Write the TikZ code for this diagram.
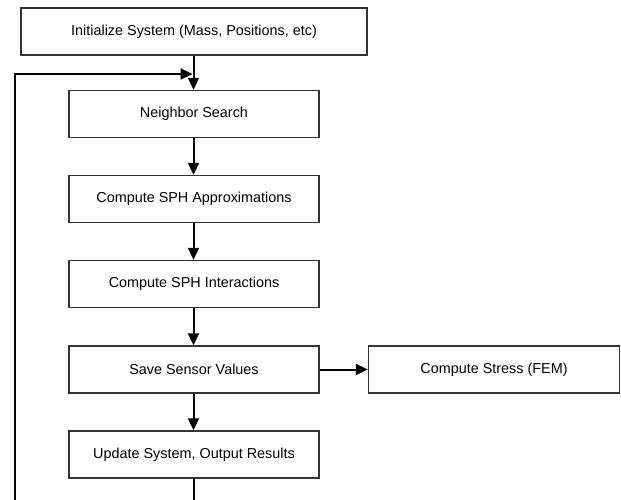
\documentclass[tikz,border=0pt]{standalone}
\usepackage{fontspec}
\setmainfont{Liberation Sans}
\usetikzlibrary{arrows.meta}
\begin{document}
\begin{tikzpicture}[x=1pt,y=-1pt,
  box/.style={draw=black!80,line width=1.4pt,fill=white,minimum height=47pt,inner sep=0pt,font=\fontsize{14.4}{16}\selectfont},
  mainbox/.style={box,minimum width=250pt},
  conn/.style={line width=2pt,-{Triangle[length=12pt,width=11pt]}},
  plain/.style={line width=2pt}]
\useasboundingbox (0,0) rectangle (621,500);
\node[box,minimum width=346pt] (init) at (194,31.5) {Initialize System (Mass, Positions, etc)};
\node[mainbox] (ns) at (194,114) {Neighbor Search};
\node[mainbox] (approx) at (194,199) {Compute SPH Approximations};
\node[mainbox] (inter) at (194,284) {Compute SPH Interactions};
\node[mainbox] (save) at (194,369.5) {Save Sensor Values};
\node[mainbox] (upd) at (194,454.5) {Update System, Output Results};
\node[box,minimum width=251pt] (fem) at (494,369.5) {Compute Stress (FEM)};
\coordinate (join) at (193.5,74);
\coordinate (bot) at (193.5,500);
\coordinate (lbot) at (15,500);
\coordinate (ltop) at (15,74);
\draw[conn] (init.south -| join) -- (ns.north -| join);
\draw[conn] (ns.south -| join) -- (approx.north -| join);
\draw[conn] (approx.south -| join) -- (inter.north -| join);
\draw[conn] (inter.south -| join) -- (save.north -| join);
\draw[conn] (save.south -| join) -- (upd.north -| join);
\draw[conn] (save) -- (fem);
\draw[plain] (upd.south -| join) -- (bot);
\draw[conn] (lbot) -- (ltop) -- ([xshift=-1pt]join);
\end{tikzpicture}
\end{document}
